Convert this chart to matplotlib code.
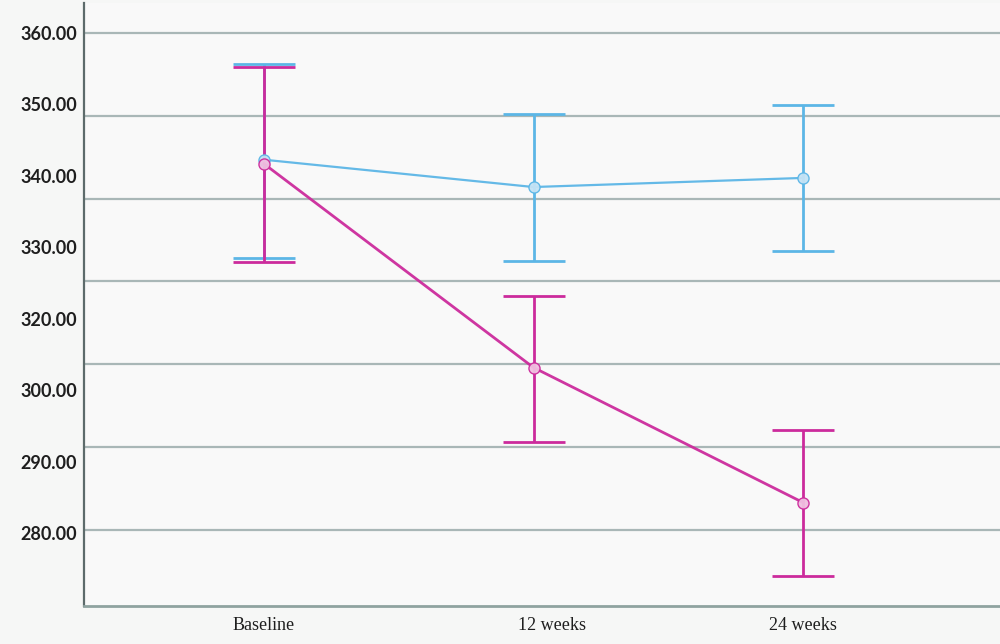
import numpy as np
from matplotlib import pyplot as plt
from matplotlib import transforms

# time points and tick labels
times = ["Baseline", "12 weeks", "24 weeks"]
ylabels = ["360.00", "350.00", "340.00", "330.00", "320.00", "300.00", "290.00", "280.00"]

# group 1 (blue): mean, upper and lower bound of the interval
blue_mean = [344.7, 341.4, 342.5]
blue_hi = [356.3, 350.2, 351.3]
blue_lo = [332.8, 332.5, 333.7]

# group 2 (magenta)
pink_mean = [344.2, 319.6, 303.3]
pink_hi = [355.9, 328.3, 312.1]
pink_lo = [332.4, 310.6, 294.4]

blue = "#5cb6e6"
pink = "#cc2b9c"

fig = plt.figure(figsize=(10, 6.44), dpi=100)
fig.patch.set_facecolor("#f6f7f6")
ax = fig.add_axes([0.084, 0.059, 0.916, 0.936])
ax.set_facecolor("#f9f9f9")

x = np.arange(len(times))

# gridlines
for g in range(300, 361, 10):
    ax.axhline(g, color="#a9b7b7", lw=1.6, zorder=0)

def draw(mean, hi, lo, col, lw, mfc):
    mean = np.asarray(mean)
    yerr = [mean - np.asarray(lo), np.asarray(hi) - mean]
    ax.errorbar(x, mean, yerr=yerr, fmt="none", ecolor=col, elinewidth=2,
                capsize=22, capthick=2, zorder=3)
    ax.plot(x, mean, color=col, lw=lw, marker="o", ms=8, mfc=mfc,
            mec=col, mew=1.0, alpha=0.95, zorder=4)

draw(blue_mean, blue_hi, blue_lo, blue, 1.6, "#c4e3f5")
draw(pink_mean, pink_hi, pink_lo, pink, 2.0, "#f0bfe0")

ax.set_xlim(-0.668, 2.731)
ax.set_ylim(290.8, 363.6)

ax.set_xticks(x)
ax.set_xticklabels(times, fontfamily="Liberation Serif", fontsize=13, color="#1e1e1e")
ax.set_yticks(np.linspace(360, 299.6, len(ylabels)))
ax.set_yticklabels(ylabels, fontfamily="Lato", fontweight="bold", fontsize=13, color="#1e1e1e")
ax.tick_params(axis="both", length=0)
ax.tick_params(axis="y", pad=5)
ax.tick_params(axis="x", pad=8)

# the middle label sits a little right of its point in the original
lab = ax.get_xticklabels()[1]
lab.set_transform(lab.get_transform() + transforms.ScaledTranslation(0.18, 0, fig.dpi_scale_trans))

for s in ["top", "right"]:
    ax.spines[s].set_visible(False)
ax.spines["left"].set_color("#5d6b6b")
ax.spines["left"].set_linewidth(1.6)
ax.spines["bottom"].set_color("#8fa3a0")
ax.spines["bottom"].set_linewidth(2)

fig.savefig("out.png", dpi=100, facecolor=fig.get_facecolor())
